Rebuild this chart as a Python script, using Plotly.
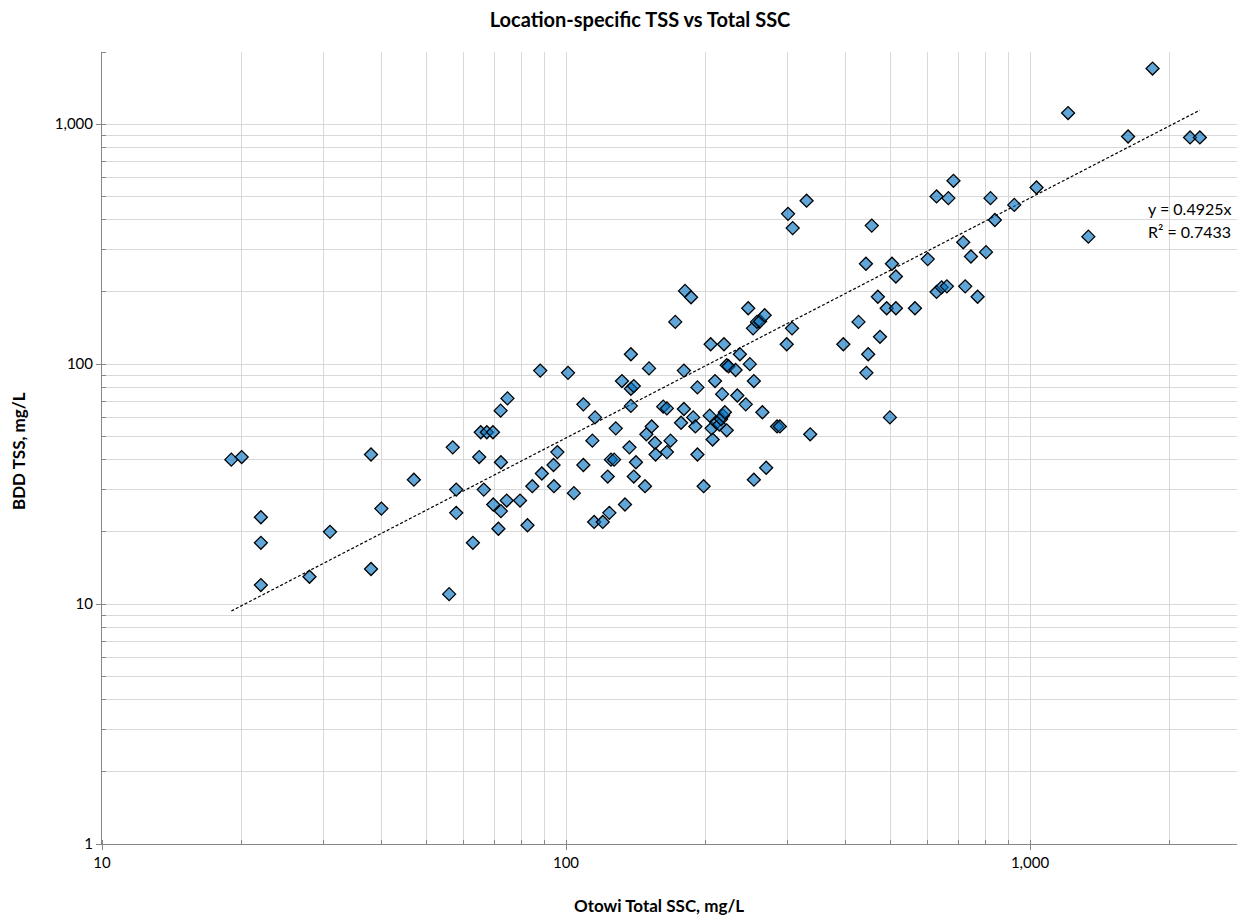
import plotly.graph_objects as go
import numpy as np

# Otowi Total SSC (mg/L) and BDD TSS (mg/L)
otowi_ssc = [19, 20, 22, 22, 22, 28, 31, 38, 38, 40,
             47, 56, 57, 58, 58, 63, 65, 65.5, 67.5, 69.6,
             66.5, 69.7, 72.4, 71.5, 72.4, 72.3, 74.8, 74.5, 79.6, 82.6,
             84.6, 88.7, 88, 94, 94.2, 95.8, 101, 104, 109, 109,
             114, 115.5, 115, 120, 124, 123, 125, 127, 128, 132,
             134, 137, 138, 138, 138, 140, 140, 141.5, 148, 149,
             151, 153, 155.5, 156, 162, 165, 165, 168, 172, 177,
             179.5, 179.5, 180.5, 186, 188, 190, 192, 192, 198, 204,
             205, 207, 209.5, 206, 211, 214, 216, 218, 220, 222,
             217, 219, 222, 224, 232, 234, 237, 244, 247, 249,
             253, 254, 254, 258, 262, 268, 265, 270, 285, 289,
             299, 301, 307, 308, 330, 336, 396, 427, 443, 444,
             448, 456, 470, 475, 491, 499, 504, 514, 514, 565,
             602, 629, 629, 645, 662, 667, 684, 718, 725, 746,
             771, 804, 822, 840, 925, 1033, 1208, 1336, 1627, 1837,
             2213, 2323]
bdd_tss = [40, 41, 23, 18, 12, 13, 20, 42, 14, 25,
           33, 11, 45, 30, 24, 18, 41, 52, 52, 52,
           30, 26, 24.4, 20.6, 39, 64, 72, 27, 27, 21.3,
           31, 35, 94, 38, 31, 43, 92, 29, 68, 38,
           48, 60, 22, 22, 24, 34, 40, 40, 54, 85,
           26, 45, 67, 110, 79, 81, 34, 39, 31, 51,
           96, 55, 47, 42, 66.5, 65.4, 43, 48, 150, 57,
           94, 65, 202, 190, 60, 55, 80, 42, 31, 61,
           121, 48.5, 85, 54, 57, 56, 59, 61, 63, 53,
           75, 121, 99, 98, 94.5, 74, 110, 68, 171, 100,
           141, 85, 33, 150, 151, 160, 63, 37, 55, 55,
           121, 423, 141, 369, 480, 51, 121, 150, 262, 92,
           110, 378, 191, 130, 171, 60, 262, 171, 232, 171,
           274, 500, 200, 209, 211, 492, 581, 322, 211, 281,
           191, 293, 492, 399, 461, 545, 1113, 340, 889, 1706,
           881, 881]

trend_slope = 0.4925
trend_label = "y = 0.4925x"
r2_label = "R² = 0.7433"

x_tick_vals = [10, 100, 1000]
x_tick_text = ["10", "100", "1,000"]
y_tick_vals = [1, 10, 100, 1000]
y_tick_text = ["1", "10", "100", "1,000"]

FONT = "Lato"
GRID = "#d9d9d9"
AXIS = "#868686"

x_lo, x_hi = min(otowi_ssc), max(otowi_ssc)
trend_x = [x_lo, x_hi]
trend_y = [trend_slope * v for v in trend_x]

fig = go.Figure()
fig.add_trace(go.Scatter(
    x=trend_x, y=trend_y, mode="lines",
    line=dict(color="black", width=1.2, dash="3px,2px"),
    hoverinfo="skip", showlegend=False))
fig.add_trace(go.Scatter(
    x=otowi_ssc, y=bdd_tss, mode="markers",
    marker=dict(symbol="diamond", size=10, color="rgba(0,112,192,0.62)",
                line=dict(color="black", width=1.3)),
    showlegend=False))

# page body has an 8px margin; figure sized so it fits the 1245x921 window
OFF = 8
W, H = 1245 - OFF, 921 - OFF
L, R, T, B = 102 - OFF, 0, 52 - OFF, H - (844 - OFF)
pw, ph = W - L - R, H - T - B

def px_x(p):  # screen pixel -> paper x
    return (p - OFF - L) / pw

def px_y(p):  # screen pixel -> paper y
    return (H - B - (p - OFF)) / ph

axis_common = dict(
    type="log", showline=True, linecolor=AXIS, linewidth=1,
    showgrid=True, gridcolor=GRID, gridwidth=1,
    ticks="outside", ticklen=5, tickcolor=AXIS, tickwidth=1,
    tickfont=dict(family=FONT, size=15, color="#000000"),
    zeroline=False, mirror=False,
    minor=dict(dtick="D1", showgrid=True, gridcolor=GRID, gridwidth=1,
               ticks="inside", ticklen=4, tickcolor=AXIS),
)

fig.update_xaxes(**axis_common, range=[1, 1 + pw / 464.0],
                 tickmode="array", tickvals=x_tick_vals, ticktext=x_tick_text)
fig.update_yaxes(**axis_common, range=[0, np.log10(2000)],
                 tickmode="array", tickvals=y_tick_vals, ticktext=y_tick_text)

fig.update_layout(
    width=W, height=H,
    margin=dict(l=L, r=R, t=T, b=B, pad=0),
    paper_bgcolor="white", plot_bgcolor="white",
    font=dict(family=FONT, color="#000000"),
    title=dict(text="<b>Location-specific TSS vs Total SSC</b>",
               x=(640 - OFF) / W, xanchor="center", xref="container",
               y=1 - (20 - OFF) / H, yanchor="middle", yref="container",
               font=dict(family=FONT, size=20, color="#000000")),
    annotations=[
        dict(text="<b>Otowi Total SSC, mg/L</b>", xref="paper", yref="paper",
             x=px_x(659), y=px_y(905), xanchor="center", yanchor="middle",
             showarrow=False, font=dict(family=FONT, size=17, color="#000000")),
        dict(text="<b>BDD TSS, mg/L</b>", xref="paper", yref="paper",
             x=px_x(18), y=px_y(451), xanchor="center", yanchor="middle",
             textangle=-90, showarrow=False,
             font=dict(family=FONT, size=17, color="#000000")),
        dict(text=trend_label, xref="paper", yref="paper",
             x=px_x(1146), y=px_y(209), xanchor="left", yanchor="middle",
             showarrow=False, font=dict(family=FONT, size=16, color="#000000")),
        dict(text=r2_label, xref="paper", yref="paper",
             x=px_x(1146), y=px_y(231), xanchor="left", yanchor="middle",
             showarrow=False, font=dict(family=FONT, size=16, color="#000000")),
    ],
)

fig.write_html("out.html")
